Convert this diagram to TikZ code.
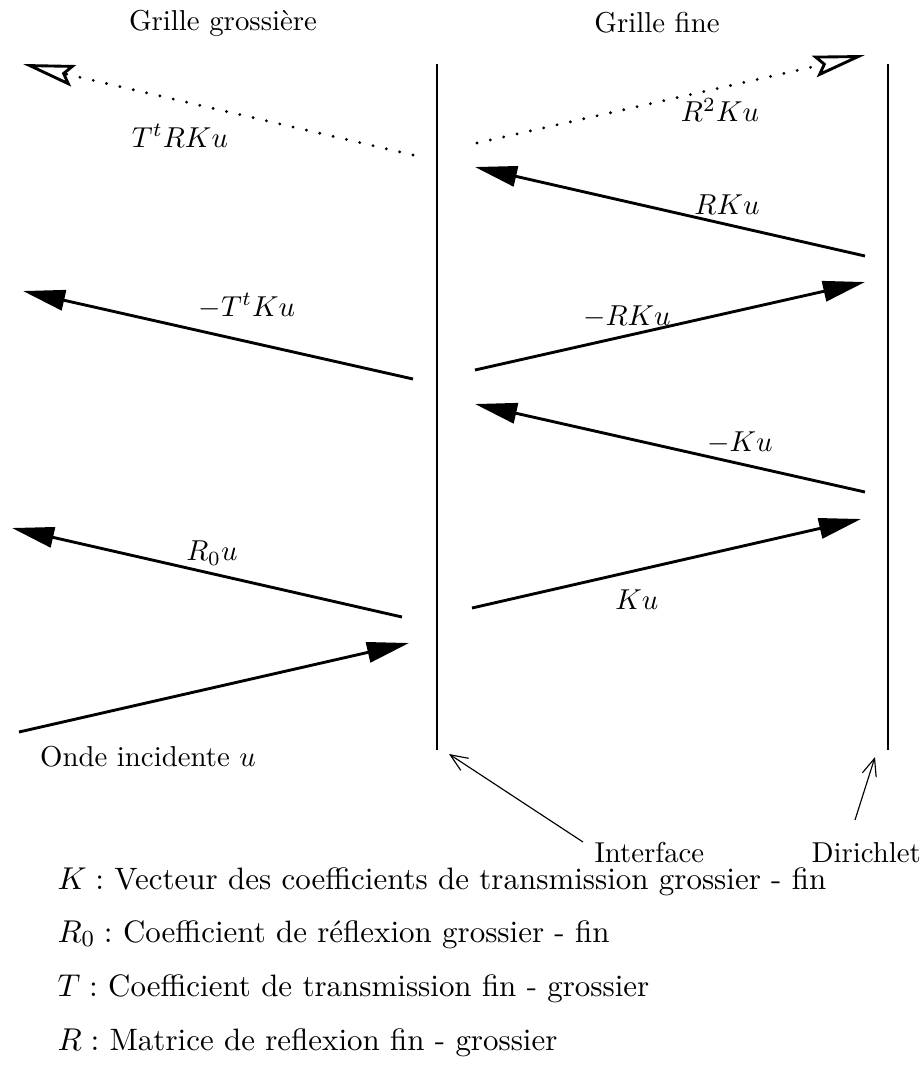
\documentclass[tikz,border=0pt]{standalone}
\usetikzlibrary{arrows.meta}
\begin{document}
\begin{tikzpicture}[x=0.3472pt,y=-0.3472pt,
  wave/.style={line width=1pt,-{Triangle[length=14.6pt,width=7.1pt]}},
  ghost/.style={line width=1.1pt,dash pattern=on 0pt off 4.75pt,line cap=round,
    -{Stealth[open,length=18pt,width=7.6pt,inset=2.9pt,line width=1pt]}},
  wall/.style={line width=1pt},
  pointer/.style={line width=0.4pt,-{Straight Barb[length=6pt,width=5pt]}},
  lbl/.style={inner sep=0pt},
  tag/.style={inner sep=0pt,anchor=base west},
  legend/.style={inner sep=0pt,anchor=base west,font=\fontsize{10.75pt}{13pt}\selectfont}]
\useasboundingbox (0,0) rectangle (921,1067);
% titles
\node[lbl] (tc) at (223,23) {Grille grossière};
\node[lbl] (tf) at (657,23) {Grille fine};
% walls
\coordinate (ifT) at (437,64);
\coordinate (ifB) at (437,750);
\coordinate (drT) at (888,64);
\coordinate (drB) at (888,750);
\draw[wall] (ifT) -- (ifB);
\draw[wall] (drT) -- (drB);
% left side
\coordinate (inA) at (19,732);  \coordinate (inB) at (409,643);
\coordinate (r0A) at (402,617); \coordinate (r0B) at (12,528);
\coordinate (tkA) at (413,379); \coordinate (tkB) at (23,291);
\coordinate (trA) at (413,155); \coordinate (trB) at (23,64);
\draw[wave] (inA) -- (inB);
\draw[wave] (r0A) -- (r0B);
\draw[wave] (tkA) -- (tkB);
\draw[ghost] (trA) -- (trB);
% right side
\coordinate (kA) at (472,608);  \coordinate (kB) at (861,519);
\coordinate (mkA) at (865,492); \coordinate (mkB) at (475,404);
\coordinate (mrA) at (475,370); \coordinate (mrB) at (865,282);
\coordinate (rkA) at (865,256); \coordinate (rkB) at (475,167);
\coordinate (r2A) at (477,143); \coordinate (r2B) at (865,55);
\draw[wave] (kA) -- (kB);
\draw[wave] (mkA) -- (mkB);
\draw[wave] (mrA) -- (mrB);
\draw[wave] (rkA) -- (rkB);
\draw[ghost] (r2A) -- (r2B);
% labels
\node[lbl] (l1) at (180,136) {$T^tRKu$};
\node[lbl] (l2) at (720,110) {$R^2Ku$};
\node[lbl] (l3) at (727,205) {$RKu$};
\node[lbl] (l4) at (247,306) {$-T^tKu$};
\node[lbl] (l5) at (627,317) {$-RKu$};
\node[lbl] (l6) at (740,443) {$-Ku$};
\node[lbl] (l7) at (212,553) {$R_0u$};
\node[lbl] (l8) at (637,600) {$Ku$};
\node[lbl] (onde) at (148,757) {Onde incidente $u$};
% interface / dirichlet
\node[tag] (iface) at (594,862) {Interface};
\node[tag] (diri) at (811,862) {Dirichlet};
\coordinate (ifP) at (583,842);
\coordinate (ifQ) at (449,754);
\coordinate (drP) at (855,820);
\coordinate (drQ) at (875,757);
\draw[pointer] (ifP) -- (ifQ);
\draw[pointer] (drP) -- (drQ);
% legend
\node[legend] (g1) at (57,889) {$K:$ Vecteur des coefficients de transmission grossier - fin};
\node[legend] (g2) at (57,942) {$R_0:$ Coefficient de réflexion grossier - fin};
\node[legend] (g3) at (57,996) {$T:$ Coefficient de transmission fin - grossier};
\node[legend] (g4) at (57,1050) {$R:$ Matrice de reflexion fin - grossier};
\end{tikzpicture}
\end{document}
